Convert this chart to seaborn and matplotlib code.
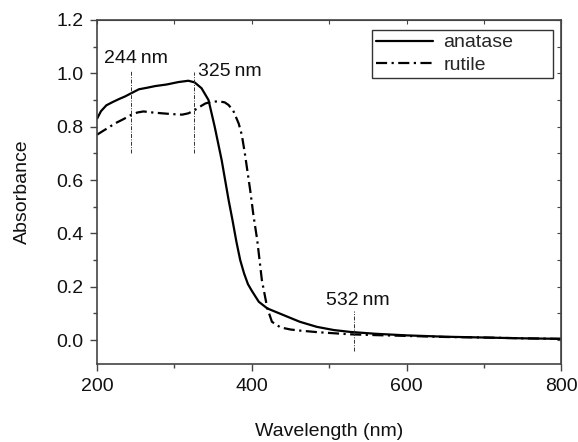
import pandas as pd
import matplotlib
matplotlib.use('Agg')
import matplotlib.pyplot as plt
import seaborn as sns
from matplotlib.ticker import MultipleLocator

# Absorbance spectra
anatase_nm = [200, 205, 212, 220, 228, 236, 244, 254, 265, 275, 290, 305, 318, 326,
              335, 344, 352, 361, 370, 375, 380, 385, 390, 395, 400, 409, 420, 441,
              462, 484, 506, 527, 560, 600, 650, 700, 750, 800]
anatase_abs = [0.830, 0.858, 0.880, 0.892, 0.903, 0.913, 0.925, 0.940, 0.946, 0.952,
               0.958, 0.967, 0.972, 0.966, 0.944, 0.900, 0.800, 0.675, 0.525, 0.450,
               0.370, 0.300, 0.250, 0.210, 0.185, 0.144, 0.119, 0.094, 0.069, 0.050,
               0.038, 0.031, 0.024, 0.018, 0.013, 0.010, 0.007, 0.005]

rutile_nm = [200, 206, 215, 223, 234, 244, 252, 260, 272, 284, 297, 310, 318, 325,
             333, 340, 348, 357, 365, 370, 376, 383, 387, 391, 395, 398, 402, 407,
             413, 420, 426, 437, 450, 462, 485, 506, 527, 560, 600, 650, 700, 750, 800]
rutile_abs = [0.770, 0.781, 0.797, 0.812, 0.828, 0.844, 0.853, 0.857, 0.853, 0.850,
              0.847, 0.845, 0.850, 0.860, 0.875, 0.887, 0.893, 0.895, 0.891, 0.881,
              0.860, 0.812, 0.770, 0.700, 0.620, 0.560, 0.470, 0.375, 0.225, 0.120,
              0.069, 0.048, 0.040, 0.036, 0.030, 0.026, 0.022, 0.019, 0.016, 0.012,
              0.010, 0.007, 0.005]

# marked wavelengths: position, line extent, label
marks_nm = [244, 325, 532]
marks_lo = [0.70, 0.70, -0.04]
marks_hi = [1.01, 1.005, 0.11]
mark_labels = ['244\u2009nm', '325\u2009nm', '532\u2009nm']
label_x = [209, 331, 496]
label_y = [1.037, 0.99, 0.131]

FS = 14

sns.set_style('ticks')
plt.rcParams['font.family'] = ['Liberation Sans', 'DejaVu Sans']
plt.rcParams['font.size'] = FS

df = pd.concat([
    pd.DataFrame({'nm': anatase_nm, 'abs': anatase_abs, 'phase': 'anatase'}),
    pd.DataFrame({'nm': rutile_nm, 'abs': rutile_abs, 'phase': 'rutile'}),
])

fig = plt.figure(figsize=(5.78, 4.42), dpi=100)
ax = fig.add_axes([0.168, 0.176, 0.803, 0.779])

sns.lineplot(data=df, x='nm', y='abs', hue='phase', style='phase',
             palette={'anatase': 'black', 'rutile': 'black'},
             dashes={'anatase': '', 'rutile': (5, 2, 1, 2)},
             linewidth=1.6, ax=ax, sort=False)

for x, lo, hi in zip(marks_nm, marks_lo, marks_hi):
    ax.plot([x, x], [lo, hi], color='#333333', lw=0.7, dashes=(4, 1.5, 1, 1.5))
for t, x, y in zip(mark_labels, label_x, label_y):
    ax.text(x, y, t, fontsize=FS, color='#111111', ha='left', va='baseline')

ax.set_xlim(200, 800)
ax.set_ylim(-0.09, 1.2)
ax.xaxis.set_major_locator(MultipleLocator(200))
ax.xaxis.set_minor_locator(MultipleLocator(100))
ax.yaxis.set_major_locator(MultipleLocator(0.2))
ax.yaxis.set_minor_locator(MultipleLocator(0.1))
ax.yaxis.set_major_formatter(matplotlib.ticker.FormatStrFormatter('%.1f'))
ax.tick_params(which='major', direction='out', length=5, width=1, color='#444444',
               labelsize=FS, pad=5, labelcolor='#111111')
ax.tick_params(which='minor', direction='out', length=3, width=1, color='#444444')
for s in ax.spines.values():
    s.set_color('#444444')
    s.set_linewidth(1.2)

sec_y = ax.secondary_yaxis('right')
sec_y.yaxis.set_major_locator(MultipleLocator(0.1))
sec_y.tick_params(direction='in', length=3, color='#444444', labelright=False)
sec_y.spines['right'].set_color('#444444')
sec_x = ax.secondary_xaxis('top')
sec_x.xaxis.set_major_locator(MultipleLocator(100))
sec_x.tick_params(direction='in', length=3, color='#444444', labeltop=False)
sec_x.spines['top'].set_color('#444444')

ax.set_xlabel('Wavelength (nm)', fontsize=FS, labelpad=20, color='#111111')
ax.set_ylabel('Absorbance', fontsize=FS, labelpad=18, color='#111111')

leg = ax.legend(loc='upper left', bbox_to_anchor=(0.593, 0.0, 0.39, 0.971),
                mode='expand', borderaxespad=0, frameon=True, fancybox=False,
                edgecolor='black', handlelength=2.9, fontsize=FS, borderpad=0.2,
                labelspacing=0.25, handletextpad=0.55)
leg.get_frame().set_linewidth(1.0)

fig.savefig('out.png', dpi=100)
